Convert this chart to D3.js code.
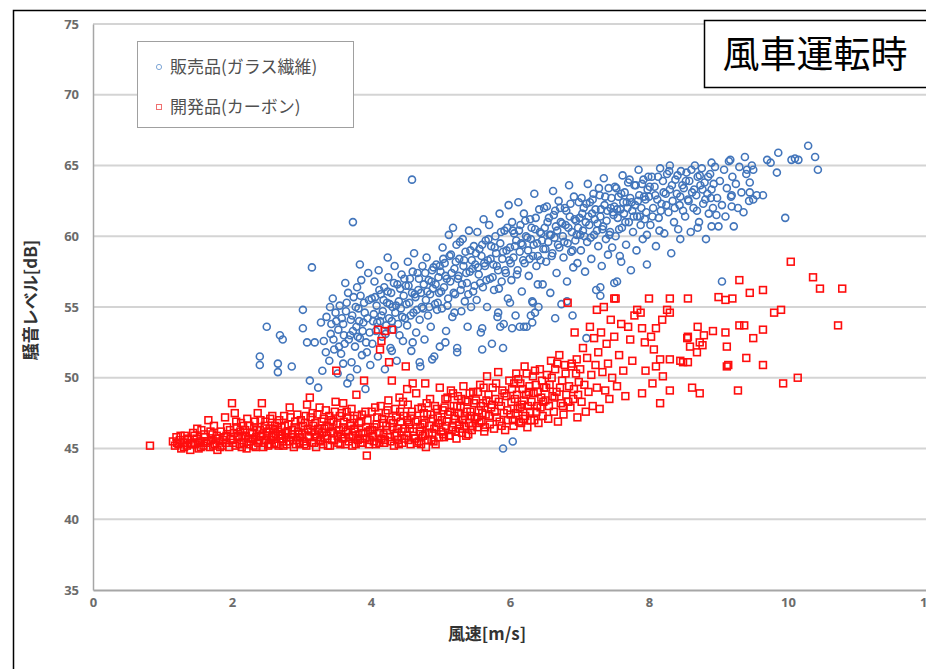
<!DOCTYPE html>
<html>
<head>
<meta charset="utf-8">
<script src="https://cdn.jsdelivr.net/npm/d3@7"></script>
<style>
	body { margin: 0; background: #fff; }
	svg { display: block; }
	text { font-family: "Noto Sans CJK JP", "Noto Sans", sans-serif; }
</style>
</head>
<body>
<div id="wrapper"></div>
<script>
// tick values / labels
const xTicks = [0, 2, 4, 6, 8, 10, 12];
const yTicks = [35, 40, 45, 50, 55, 60, 65, 70, 75];
const seriesNames = ["販売品(ガラス繊維)", "開発品(カーボン)"];
const chartTitle = "風車運転時";

// 販売品(ガラス繊維): [wind speed m/s, noise dB]
const glassFiber = [
	[2.4,51.5],[2.4,50.9],[2.5,53.6],[2.69,53.0],[2.73,52.7],[2.66,51.0],[2.66,50.4],[2.86,50.8],[3.02,53.5],[3.02,54.8],
	[3.08,52.5],[3.19,52.5],[3.12,49.8],[3.24,49.3],[3.41,55.0],[3.63,56.7],[3.8,56.4],[3.84,58.0],[4.24,58.5],[3.15,57.8],
	[3.74,61.0],[4.59,64.0],[3.3,50.5],[3.35,51.8],[3.28,53.9],
	[3.32,52.6],[3.36,54.3],[3.4,51.2],[3.42,53.1],[3.45,55.6],[3.47,52.0],[3.5,54.0],[3.52,50.3],[3.53,53.4],[3.55,55.1],
	[3.57,51.7],[3.6,53.8],[3.62,52.4],[3.64,54.7],[3.66,49.6],[3.67,56.0],[3.7,53.0],[3.72,51.1],[3.73,54.4],[3.75,55.7],
	[3.77,52.2],[3.79,53.6],[3.8,50.6],[3.82,54.9],[3.84,52.8],[3.86,56.9],[3.87,51.6],[3.89,53.9],[3.9,55.3],[3.92,49.2],
	[3.93,52.5],[3.95,54.2],[3.96,57.4],[3.98,53.2],[3.99,50.9],
	[3.43,53.8],[3.46,52.7],[3.49,54.6],[3.54,52.2],[3.58,54.2],[3.61,53.0],[3.65,55.3],[3.68,52.7],[3.71,54.1],[3.74,53.3],
	[3.78,55.0],[3.81,52.9],[3.83,54.0],[3.85,55.8],[3.88,53.3],[3.91,54.6],[3.94,51.8],[3.97,55.5],[3.6,51.0],[3.7,50.0],
	[4.01,55.6],[4.02,52.4],[4.04,54.5],[4.05,56.8],[4.07,53.3],[4.08,55.1],[4.1,51.5],[4.11,57.6],[4.13,54.0],[4.14,55.9],
	[4.16,52.9],[4.17,54.7],[4.19,56.4],[4.2,50.6],[4.22,53.7],[4.23,55.3],[4.25,57.1],[4.26,54.2],[4.28,52.1],[4.29,56.0],
	[4.31,55.0],[4.32,53.4],[4.34,57.9],[4.35,54.6],[4.37,51.2],[4.38,56.6],[4.4,55.4],[4.41,53.0],[4.43,54.9],[4.44,57.3],
	[4.46,52.6],[4.47,55.8],[4.49,54.2],
	[4.5,56.5],[4.52,53.7],[4.53,58.2],[4.55,55.3],[4.56,57.0],[4.58,51.9],[4.59,56.0],[4.61,54.6],[4.62,58.8],[4.64,55.7],
	[4.65,53.2],[4.67,57.4],[4.68,56.2],[4.7,54.1],[4.71,50.8],[4.73,55.0],[4.74,57.9],[4.76,56.6],[4.77,52.7],[4.79,55.5],
	[4.8,58.5],[4.82,54.4],[4.83,56.9],[4.85,55.9],[4.86,53.6],[4.88,57.6],[4.89,56.3],[4.91,51.5],[4.92,55.2],[4.94,58.0],
	[4.95,54.8],[4.97,57.1],[4.98,56.0],
	[4.03,54.0],[4.06,55.7],[4.09,53.9],[4.12,56.2],[4.15,54.4],[4.18,55.5],[4.21,53.1],[4.24,56.1],[4.27,55.2],[4.3,54.0],
	[4.33,56.7],[4.36,55.1],[4.39,53.8],[4.42,56.3],[4.45,54.3],[4.48,57.0],[4.51,55.2],[4.54,56.5],[4.57,54.4],[4.6,57.5],
	[4.63,55.9],[4.66,54.8],[4.69,57.0],[4.72,56.0],[4.75,54.9],[4.78,57.4],[4.81,56.1],[4.84,55.0],[4.87,56.8],[4.9,57.8],
	[4.93,56.6],[4.96,55.3],[4.99,57.9],[4.3,51.9],[4.6,52.5],
	[5.0,57.5],[5.02,54.9],[5.03,59.2],[5.05,56.4],[5.06,58.1],[5.08,53.3],[5.09,57.0],[5.11,55.6],[5.12,60.1],[5.14,56.8],
	[5.15,58.7],[5.17,54.3],[5.18,60.6],[5.2,57.7],[5.21,55.9],[5.23,59.4],[5.24,52.1],[5.26,57.2],[5.27,58.4],[5.29,56.2],
	[5.3,54.7],[5.32,59.8],[5.33,57.9],[5.35,55.4],[5.36,58.9],[5.38,56.7],[5.39,53.6],[5.41,60.4],[5.42,57.5],[5.44,55.0],
	[5.45,58.3],[5.47,56.1],[5.48,59.3],
	[5.5,58.0],[5.52,55.5],[5.53,60.3],[5.55,57.3],[5.56,59.1],[5.58,53.2],[5.59,58.6],[5.61,56.4],[5.62,61.2],[5.64,57.9],
	[5.65,59.7],[5.67,55.0],[5.68,58.3],[5.7,60.8],[5.71,57.0],[5.73,59.3],[5.74,52.4],[5.76,58.0],[5.77,56.2],[5.79,60.0],
	[5.8,58.8],[5.82,54.3],[5.83,57.6],[5.85,61.6],[5.86,59.5],[5.88,56.8],[5.89,58.4],[5.91,53.8],[5.92,60.4],[5.94,57.4],
	[5.95,59.0],[5.97,55.6],[5.98,62.2],
	[5.01,56.1],[5.04,58.4],[5.07,57.2],[5.1,55.1],[5.13,58.6],[5.16,57.4],[5.19,56.0],[5.22,58.2],[5.25,57.0],[5.28,59.6],
	[5.31,56.6],[5.34,58.3],[5.37,57.4],[5.4,55.9],[5.43,59.0],[5.46,57.7],[5.49,56.5],[5.51,58.8],[5.54,57.8],[5.57,56.7],
	[5.6,59.4],[5.63,58.1],[5.66,56.9],[5.69,59.8],[5.72,58.4],[5.75,57.1],[5.78,59.2],[5.81,57.9],[5.84,56.3],[5.87,60.3],
	[5.9,58.9],[5.93,57.6],[5.96,60.6],[5.99,58.3],[5.2,54.6],
	[6.0,59.2],[6.02,56.9],[6.03,61.0],[6.05,58.5],[6.06,60.2],[6.08,54.4],[6.09,59.7],[6.11,57.6],[6.12,62.4],[6.14,58.9],
	[6.15,60.8],[6.17,56.1],[6.18,59.4],[6.2,61.6],[6.21,58.1],[6.23,60.0],[6.24,53.6],[6.26,59.0],[6.27,57.2],[6.29,61.2],
	[6.3,59.8],[6.32,55.4],[6.33,58.6],[6.35,63.0],[6.36,60.5],[6.38,57.9],[6.39,59.5],[6.41,55.0],[6.42,61.9],[6.44,58.3],
	[6.45,60.2],[6.47,56.6],[6.48,59.1],
	[6.5,60.6],[6.52,58.2],[6.53,62.1],[6.55,59.6],[6.56,61.3],[6.58,56.0],[6.59,60.1],[6.61,58.8],[6.62,63.2],[6.64,59.9],
	[6.65,61.8],[6.67,57.4],[6.68,60.4],[6.7,62.5],[6.71,59.2],[6.73,61.0],[6.74,55.2],[6.76,60.0],[6.77,58.5],[6.79,62.0],
	[6.8,60.8],[6.82,56.8],[6.83,59.5],[6.85,63.6],[6.86,61.4],[6.88,58.9],[6.89,60.3],[6.91,57.8],[6.92,62.8],[6.94,59.7],
	[6.95,61.1],[6.97,58.1],[6.98,60.6],
	[6.01,58.1],[6.04,60.4],[6.07,59.3],[6.1,57.3],[6.13,60.4],[6.16,59.5],[6.19,58.3],[6.22,61.1],[6.25,59.9],[6.28,58.4],
	[6.31,60.6],[6.34,59.4],[6.37,61.3],[6.4,58.6],[6.43,60.3],[6.46,59.7],[6.49,62.0],[6.51,59.1],[6.54,61.0],[6.57,60.1],
	[6.6,58.6],[6.63,61.5],[6.66,60.7],[6.69,59.4],[6.72,62.0],[6.75,60.9],[6.78,59.6],[6.81,61.8],[6.84,60.6],[6.87,62.3],
	[6.9,59.0],[6.93,61.2],[6.96,60.1],[6.99,62.4],[6.4,56.6],
	[7.0,61.3],[7.02,59.0],[7.03,62.7],[7.05,60.4],[7.06,62.0],[7.08,57.5],[7.09,61.0],[7.11,59.6],[7.12,63.7],[7.14,60.8],
	[7.15,62.4],[7.17,58.4],[7.18,61.6],[7.2,63.0],[7.21,60.1],[7.23,61.9],[7.24,56.2],[7.26,60.9],[7.27,59.3],[7.29,62.9],
	[7.3,61.4],[7.32,57.9],[7.33,60.5],[7.35,64.1],[7.36,62.2],[7.38,59.8],[7.39,61.1],[7.41,58.7],[7.42,63.4],[7.44,60.3],
	[7.45,62.0],[7.47,59.2],[7.48,61.7],
	[7.5,62.1],[7.52,60.0],[7.53,63.4],[7.55,61.3],[7.56,62.8],[7.58,58.6],[7.59,61.9],[7.61,60.6],[7.62,64.3],[7.64,61.6],
	[7.65,63.1],[7.67,59.4],[7.68,62.4],[7.7,63.8],[7.71,61.0],[7.73,62.7],[7.74,57.6],[7.76,61.8],[7.77,60.3],[7.79,63.6],
	[7.8,62.2],[7.82,59.0],[7.83,61.4],[7.85,64.7],[7.86,62.9],[7.88,60.8],[7.89,62.0],[7.91,59.8],[7.92,64.0],[7.94,61.2],
	[7.95,62.6],[7.97,60.1],[7.98,63.3],
	[7.01,60.1],[7.04,61.6],[7.07,60.0],[7.1,62.3],[7.13,61.4],[7.16,59.9],[7.19,62.6],[7.22,61.2],[7.25,60.4],[7.28,63.4],
	[7.31,61.9],[7.34,60.7],[7.37,62.8],[7.4,61.8],[7.43,60.1],[7.46,62.7],[7.49,61.5],[7.51,63.5],[7.54,61.9],[7.57,60.5],
	[7.6,63.0],[7.63,62.4],[7.66,61.0],[7.69,62.0],[7.72,64.0],[7.75,62.4],[7.78,61.4],[7.81,63.6],[7.84,62.5],[7.87,61.4],
	[7.9,63.7],[7.93,62.8],[7.96,61.7],[7.99,64.2],[7.6,58.2],
	[8.0,62.8],[8.02,60.8],[8.04,64.2],[8.06,62.0],[8.08,63.5],[8.1,59.3],[8.12,62.6],[8.14,61.3],[8.16,64.8],[8.18,62.3],
	[8.2,63.9],[8.22,60.2],[8.24,63.0],[8.26,64.4],[8.28,61.7],[8.3,63.3],[8.32,58.8],[8.34,62.5],[8.36,61.0],[8.38,64.0],
	[8.4,63.0],[8.42,60.5],[8.44,62.2],[8.46,64.6],[8.48,63.6],
	[8.5,63.4],[8.52,61.4],[8.54,64.5],[8.56,62.6],[8.58,63.9],[8.6,60.3],[8.62,63.1],[8.64,62.0],[8.66,65.0],[8.68,62.9],
	[8.7,64.2],[8.72,61.0],[8.74,63.6],[8.76,64.8],[8.78,62.3],[8.8,63.8],[8.82,59.8],[8.84,63.0],[8.86,61.6],[8.88,64.4],
	[8.9,63.3],[8.92,62.0],[8.95,64.9],[8.98,62.7],
	[8.01,63.5],[8.05,61.4],[8.09,62.9],[8.13,64.2],[8.17,61.8],[8.21,63.1],[8.25,62.2],[8.29,64.6],[8.33,63.6],[8.37,62.0],
	[8.41,64.3],[8.45,62.8],[8.49,61.8],[8.53,63.9],[8.57,62.5],[8.61,64.7],[8.65,63.3],[8.69,61.8],[8.73,64.3],[8.77,63.3],
	[8.81,62.6],[8.85,64.2],[8.89,62.7],[8.93,63.7],[8.97,61.5],[8.15,60.4],[8.45,59.8],[8.7,60.6],[8.3,65.0],[8.9,65.2],
	[9.02,63.9],[9.05,62.2],[9.08,64.7],[9.1,61.4],[9.12,63.4],[9.15,65.3],[9.18,62.8],[9.2,64.2],[9.22,60.7],[9.25,63.7],
	[9.28,62.0],[9.3,64.9],[9.33,63.1],[9.36,61.7],[9.4,64.4],[9.44,62.5],[9.48,65.0],
	[9.17,65.4],[9.38,65.6],[9.41,64.7],[9.5,64.7],[9.45,63.8],[9.45,63.1],[9.55,62.9],[9.64,62.9],[9.5,62.6],[9.7,65.4],
	[9.75,65.2],[9.86,65.9],[9.84,64.5],[10.1,65.5],[10.05,65.4],[10.15,65.4],[10.29,66.4],[10.39,65.6],[10.43,64.7],[9.96,61.3],
	[9.19,62.9],[9.19,62.1],[9.0,60.7],[8.9,60.7],
	[7.1,52.8],[7.5,56.7],[7.3,56.4],[7.3,55.8],[7.97,58.0],[6.82,55.4],[6.9,54.4],[6.65,54.2],[6.3,54.4],[6.32,53.9],
	[6.0,55.3],[5.83,54.6],[5.6,53.5],[5.6,52.0],[5.9,52.1],[6.14,53.6],[6.03,53.5],[5.24,51.8],[5.9,45.0],[6.04,45.5],
	[4.88,51.3],[4.7,51.1],[4.99,52.2],[5.07,52.5],[9.05,56.8],[6.33,55.3],[6.36,54.6],[5.86,53.6],[6.2,53.6],[7.54,56.8]
];

// 開発品(カーボン)
const carbon = [
	[0.82,45.2],
	[1.15,45.5],[1.18,45.2],[1.2,45.8],[1.23,45.3],[1.25,45.6],[1.27,45.0],[1.3,45.4],[1.32,45.9],[1.35,45.2],[1.37,45.6],
	[1.4,44.9],[1.42,45.4],[1.44,46.1],[1.47,45.3],[1.49,45.7],[1.52,45.0],[1.54,45.5],[1.56,46.3],[1.59,45.2],[1.61,45.8],
	[1.63,45.4],[1.66,47.0],[1.68,45.1],[1.7,45.6],[1.72,46.0],[1.75,45.3],[1.77,45.7],[1.79,44.9],[1.82,45.5],[1.84,46.2],
	[1.86,45.2],[1.89,45.8],[1.91,45.4],[1.93,46.5],[1.96,45.1],[1.98,45.7],
	[1.21,45.4],[1.26,45.9],[1.31,45.1],[1.36,45.7],[1.41,45.3],[1.46,45.9],[1.51,45.4],[1.55,45.1],[1.6,46.0],[1.65,45.5],
	[1.69,46.2],[1.73,45.2],[1.78,45.9],[1.83,45.1],[1.87,45.6],[1.92,45.9],[1.97,46.3],[1.5,46.4],[1.74,46.6],[1.9,47.2],
	[2.0,48.2],[2.01,45.6],[2.03,46.1],[2.04,47.5],[2.05,45.2],[2.07,46.5],[2.09,45.8],[2.11,45.3],[2.13,46.8],[2.15,45.9],
	[2.17,45.4],[2.19,46.3],[2.21,45.0],[2.23,45.7],[2.25,46.6],[2.27,45.5],[2.29,46.1],[2.31,45.2],[2.33,46.9],[2.35,45.8],
	[2.37,47.5],[2.38,45.4],[2.4,46.3],[2.42,45.9],[2.43,48.2],[2.45,45.1],[2.47,46.6],[2.49,45.6],[2.51,46.2],[2.53,45.3],
	[2.55,47.1],[2.57,45.8],[2.59,46.4],[2.61,45.4],[2.63,46.0],[2.65,46.8],[2.67,45.2],[2.69,45.9],[2.71,46.5],[2.73,45.5],
	[2.75,47.3],[2.77,46.1],[2.79,45.3],[2.81,46.7],[2.83,47.9],[2.85,45.8],[2.87,46.3],[2.89,45.1],[2.91,46.9],[2.93,45.6],
	[2.95,46.2],[2.97,45.4],[2.99,47.0],
	[2.02,45.4],[2.06,46.9],[2.08,45.9],[2.12,46.2],[2.14,45.1],[2.16,46.6],[2.2,45.9],[2.22,47.1],[2.24,45.3],[2.26,46.1],
	[2.3,45.7],[2.32,46.5],[2.34,45.1],[2.36,46.3],[2.39,45.6],[2.41,47.0],[2.44,46.0],[2.46,45.4],[2.48,46.9],[2.5,45.9],
	[2.52,45.2],[2.54,46.4],[2.56,45.6],[2.58,47.3],[2.6,45.9],[2.62,46.6],[2.64,45.3],[2.66,46.2],[2.68,47.0],[2.7,45.7],
	[2.72,46.0],[2.74,45.2],[2.76,46.6],[2.78,45.8],[2.8,46.2],[2.82,45.5],[2.84,47.2],[2.86,46.0],[2.88,45.6],[2.9,46.5],
	[2.92,45.3],[2.94,47.4],[2.96,46.0],[2.98,45.8],
	[3.01,46.0],[3.03,45.5],[3.05,46.8],[3.07,45.2],[3.08,48.1],[3.09,46.4],[3.11,45.8],[3.12,48.6],[3.13,47.2],[3.15,45.4],
	[3.17,46.6],[3.19,46.0],[3.21,45.1],[3.23,47.4],[3.25,46.2],[3.27,45.6],[3.29,46.9],[3.31,45.3],[3.33,46.4],[3.35,47.7],
	[3.37,45.9],[3.39,46.5],[3.41,45.2],[3.43,47.0],[3.45,46.1],[3.47,45.6],[3.49,48.3],[3.5,50.5],[3.51,46.7],[3.53,45.4],
	[3.55,47.3],[3.57,46.0],[3.59,45.7],[3.61,46.9],[3.63,45.3],[3.65,47.6],[3.67,46.3],[3.69,45.8],[3.71,46.6],[3.73,45.2],
	[3.75,47.1],[3.77,46.2],[3.79,48.8],[3.81,45.6],[3.83,46.8],[3.85,45.4],[3.87,47.4],[3.89,46.1],[3.9,49.8],[3.91,45.7],
	[3.93,46.5],[3.94,44.5],[3.95,47.0],[3.97,45.3],[3.99,46.3],
	[3.02,46.6],[3.04,45.3],[3.06,47.3],[3.1,45.9],[3.14,46.2],[3.16,47.5],[3.18,45.4],[3.2,46.8],[3.22,45.8],[3.24,46.4],
	[3.26,47.9],[3.28,45.5],[3.3,46.1],[3.32,47.1],[3.34,45.7],[3.36,46.6],[3.38,45.2],[3.4,47.3],[3.42,46.2],[3.44,45.6],
	[3.46,46.9],[3.48,47.6],[3.52,45.9],[3.54,46.3],[3.56,45.3],[3.58,47.5],[3.6,46.5],[3.62,45.8],[3.64,46.2],[3.66,47.2],
	[3.68,45.5],[3.7,46.8],[3.72,47.8],[3.74,45.9],[3.76,46.4],[3.78,45.3],[3.8,47.3],[3.82,46.0],[3.84,45.7],[3.86,46.9],
	[3.88,45.4],[3.92,47.6],[3.96,46.2],[3.98,45.6],[3.6,48.2],
	[4.01,47.6],[4.03,45.9],[4.05,46.5],[4.07,45.3],[4.09,47.2],[4.1,53.4],[4.11,46.1],[4.13,52.0],[4.14,48.0],[4.15,45.7],
	[4.17,46.8],[4.19,45.4],[4.21,47.5],[4.23,46.3],[4.25,48.4],[4.26,51.1],[4.27,45.8],[4.29,47.0],[4.3,49.8],[4.31,46.5],
	[4.33,45.2],[4.35,47.8],[4.37,46.1],[4.39,45.6],[4.41,48.6],[4.43,46.9],[4.45,45.4],[4.47,47.3],[4.49,46.4],[4.5,50.8],
	[4.51,45.9],[4.53,48.1],[4.55,46.7],[4.57,45.3],[4.59,47.6],[4.6,49.6],[4.61,46.2],[4.63,45.7],[4.65,48.9],[4.67,47.0],
	[4.69,45.5],[4.71,46.5],[4.73,47.9],[4.75,45.9],[4.77,46.8],[4.79,45.1],[4.81,47.4],[4.83,46.1],[4.85,48.5],[4.87,45.6],
	[4.89,47.1],[4.91,46.4],[4.93,45.3],[4.95,47.8],[4.97,46.8],[4.99,49.3],[4.2,53.3],[4.3,53.4],[4.15,52.6],
	[4.02,46.3],[4.04,45.5],[4.06,47.9],[4.08,46.7],[4.12,45.4],[4.16,47.1],[4.18,46.0],[4.2,45.6],[4.22,46.6],[4.24,47.7],
	[4.28,45.5],[4.32,46.8],[4.34,45.9],[4.36,47.2],[4.38,46.4],[4.4,45.3],[4.42,47.6],[4.44,46.2],[4.46,48.3],[4.48,45.7],
	[4.52,47.0],[4.54,45.6],[4.56,46.4],[4.58,47.3],[4.62,45.9],[4.64,46.9],[4.66,45.4],[4.68,47.8],[4.7,46.2],[4.72,45.3],
	[4.74,46.7],[4.76,47.5],[4.78,46.0],[4.8,48.2],[4.82,45.6],[4.84,46.6],[4.86,47.4],[4.88,46.1],[4.9,45.5],[4.92,48.0],
	[4.94,46.5],[4.96,47.2],[4.98,45.8],[4.52,49.2],[4.78,49.6],
	[5.01,46.2],[5.03,47.7],[5.05,45.8],[5.07,48.5],[5.09,46.9],[5.11,47.4],[5.13,45.9],[5.15,49.1],[5.17,46.5],[5.19,48.0],
	[5.21,47.1],[5.23,45.7],[5.25,48.7],[5.27,46.7],[5.29,47.9],[5.31,46.1],[5.33,49.4],[5.35,47.3],[5.37,45.9],[5.39,48.3],
	[5.41,46.8],[5.43,47.6],[5.45,46.3],[5.47,49.0],[5.49,47.1],
	[5.51,48.4],[5.53,46.5],[5.55,47.7],[5.57,49.5],[5.59,46.9],[5.61,48.2],[5.63,46.2],[5.65,47.4],[5.67,50.1],[5.69,48.8],
	[5.71,46.7],[5.73,47.9],[5.75,49.3],[5.77,46.4],[5.79,48.5],[5.81,47.2],[5.83,50.4],[5.85,46.9],[5.87,48.0],[5.89,49.1],
	[5.91,47.5],[5.93,46.3],[5.95,48.7],[5.97,47.0],[5.99,49.8],
	[5.02,47.0],[5.04,46.0],[5.06,47.9],[5.08,46.6],[5.1,48.6],[5.12,45.9],[5.14,47.6],[5.16,46.3],[5.18,48.9],[5.2,47.3],
	[5.22,46.2],[5.24,48.0],[5.26,47.5],[5.28,46.4],[5.3,48.5],[5.32,47.0],[5.34,46.6],[5.36,48.4],[5.38,47.6],[5.4,46.0],
	[5.42,48.9],[5.44,47.3],[5.46,46.6],[5.48,48.2],[5.52,47.2],[5.54,49.0],[5.56,46.8],[5.58,48.0],[5.6,47.5],[5.62,49.3],
	[5.64,46.5],[5.66,48.4],[5.7,47.3],[5.74,48.1],[5.78,47.6],[5.8,49.6],[5.84,48.3],[5.88,46.6],[5.92,48.9],[5.96,47.7],
	[6.01,47.4],[6.03,49.2],[6.05,46.6],[6.07,48.5],[6.09,50.3],[6.11,47.8],[6.13,46.9],[6.15,49.6],[6.17,48.1],[6.19,47.1],
	[6.21,50.8],[6.23,48.8],[6.25,46.5],[6.27,49.0],[6.29,47.6],[6.31,48.3],[6.33,50.1],[6.35,47.0],[6.37,49.5],[6.39,48.0],
	[6.41,46.8],[6.43,50.6],[6.45,48.6],[6.47,47.3],[6.49,49.3],
	[6.51,48.4],[6.53,50.2],[6.55,47.1],[6.57,49.5],[6.59,51.2],[6.61,48.7],[6.63,47.6],[6.65,50.6],[6.67,49.0],[6.69,46.9],
	[6.71,51.6],[6.73,48.2],[6.75,49.8],[6.77,47.4],[6.79,50.9],[6.81,48.8],[6.83,55.3],[6.85,49.4],[6.87,47.9],[6.89,51.0],
	[6.91,48.5],[6.93,53.2],[6.95,50.3],[6.97,47.2],[6.99,49.7],
	[6.02,48.3],[6.04,47.0],[6.06,49.6],[6.08,47.5],[6.1,48.8],[6.12,49.9],[6.14,47.9],[6.16,46.8],[6.18,49.2],[6.2,48.4],
	[6.22,47.3],[6.24,50.3],[6.26,48.0],[6.28,49.4],[6.3,47.0],[6.34,48.9],[6.36,50.5],[6.38,47.6],[6.4,49.0],[6.44,47.9],
	[6.46,49.8],[6.48,48.3],[6.52,49.3],[6.56,48.0],[6.6,50.0],[6.64,48.6],[6.68,51.0],[6.72,49.3],[6.76,48.0],[6.8,50.3],
	[6.84,48.3],[6.88,50.8],[6.92,49.2],[6.96,51.3],[6.98,48.8],
	[7.01,50.6],[7.03,48.3],[7.05,52.1],[7.07,49.5],[7.09,47.6],[7.11,51.4],[7.13,49.0],[7.15,53.6],[7.17,50.2],[7.19,48.0],
	[7.21,52.8],[7.23,50.9],[7.25,49.3],[7.27,51.8],[7.29,47.8],[7.31,53.2],[7.33,50.4],[7.35,55.0],[7.37,49.1],[7.39,52.4],
	[7.41,51.0],[7.43,48.5],[7.45,54.1],[7.47,50.0],[7.5,52.9],[7.52,55.6],[7.54,49.4],[7.57,51.6],[7.6,53.8],[7.63,50.5],
	[7.66,48.7],[7.7,53.6],[7.73,52.7],[7.76,51.2],[7.79,54.4],
	[7.5,55.6],[8.0,55.6],[8.3,55.6],[8.56,55.6],[8.3,54.6],[8.19,54.1],[7.88,54.6],[8.7,53.6],[8.79,53.0],[8.92,53.3],
	[8.56,52.9],[8.59,52.2],[8.77,52.3],[8.56,51.1],[8.45,51.2],[8.62,49.3],[8.73,48.9],[8.07,52.0],[8.16,51.3],[8.3,51.3],
	[8.2,50.1],[8.3,49.1],[8.16,48.2],[8.03,52.9],[7.94,52.5],[7.95,50.5],[8.05,49.6],[7.9,48.9],[8.1,50.8],
	[7.25,54.8],[7.83,54.8],[8.26,54.8],[7.9,53.5],[8.1,53.5],[8.55,52.8],[8.73,52.5],[8.69,51.8],[8.49,51.1],[9.12,50.8],
	[10.04,58.2],[10.36,57.1],[10.46,56.3],[10.78,56.3],[10.72,53.7],[9.3,56.9],[9.64,56.2],[9.45,56.0],[9.0,55.7],[9.1,55.5],
	[9.2,55.6],[9.8,54.6],[9.9,54.8],[9.3,53.7],[9.37,53.7],[9.64,53.4],[9.5,52.8],[9.1,53.2],[9.12,52.2],[9.14,50.9],
	[9.4,51.4],[9.64,50.9],[9.93,49.6],[10.14,50.0],[9.28,49.1]
];

function drawChart() {
	const width = 926;
	const height = 669;

	const svg = d3.select("#wrapper")
		.append("svg")
		.attr("width", width)
		.attr("height", height);

	// soft blur so the markers read like the scanned original
	svg.append("defs").append("filter")
		.attr("id", "soft")
		.append("feGaussianBlur")
		.attr("stdDeviation", 0.45);

	// outer frame (right and bottom edges are cut off in the picture)
	svg.append("rect")
		.attr("x", 13.5).attr("y", 10.5)
		.attr("width", 1000).attr("height", 1000)
		.attr("fill", "none")
		.attr("stroke", "#000")
		.attr("stroke-width", 1.5);

	const xScale = d3.scaleLinear().domain([0, 12]).range([93, 927]);
	const yScale = d3.scaleLinear().domain([35, 75]).range([590, 24]);

	// horizontal gridlines
	svg.append("g")
		.selectAll("line")
		.data(yTicks.slice(1))
		.enter().append("line")
		.attr("x1", xScale(0)).attr("x2", xScale(12))
		.attr("y1", d => yScale(d)).attr("y2", d => yScale(d))
		.attr("stroke", "#d4d4d4")
		.attr("stroke-width", 2);

	// y axis
	const yAxis = d3.axisLeft(yScale).tickValues(yTicks).tickSize(0).tickPadding(14);
	const gy = svg.append("g").attr("transform", `translate(${xScale(0)},0)`).call(yAxis);
	gy.select(".domain").attr("stroke", "#a6a6a6").attr("stroke-width", 1.5);
	gy.selectAll("text")
		.attr("fill", "#6b6b6b")
		.attr("font-size", 13)
		.attr("font-weight", "bold")
		.style("font-family", "'Open Sans', sans-serif");

	// x axis
	const xAxis = d3.axisBottom(xScale).tickValues(xTicks).tickSize(0).tickPadding(8);
	const gx = svg.append("g").attr("transform", `translate(0,${yScale(35)})`).call(xAxis);
	gx.select(".domain").attr("stroke", "#a6a6a6").attr("stroke-width", 2);
	gx.selectAll("text")
		.attr("fill", "#6b6b6b")
		.attr("font-size", 13)
		.attr("font-weight", "bold")
		.style("font-family", "'Open Sans', sans-serif");

	// axis titles
	svg.append("text")
		.attr("x", 487).attr("y", 640)
		.attr("text-anchor", "middle")
		.attr("font-size", 17)
		.attr("font-weight", "bold")
		.attr("fill", "#333")
		.text("風速[m/s]");

	svg.append("text")
		.attr("transform", "translate(37,300) rotate(-90)")
		.attr("text-anchor", "middle")
		.attr("font-size", 17)
		.attr("font-weight", "bold")
		.attr("fill", "#333")
		.text("騒音レベル[dB]");

	// points: glass fiber (blue circles), then carbon (red squares) on top
	const plot = svg.append("g").attr("filter", "url(#soft)");

	plot.selectAll(".gf")
		.data(glassFiber)
		.enter().append("circle")
		.attr("class", "gf")
		.attr("cx", d => xScale(d[0]))
		.attr("cy", d => yScale(d[1]))
		.attr("r", 3.5)
		.attr("fill", "none")
		.attr("stroke", "#4275bb")
		.attr("stroke-width", 1.6);

	const sq = 6.8;
	plot.selectAll(".cb")
		.data(carbon)
		.enter().append("rect")
		.attr("class", "cb")
		.attr("x", d => xScale(d[0]) - sq / 2)
		.attr("y", d => yScale(d[1]) - sq / 2)
		.attr("width", sq).attr("height", sq)
		.attr("fill", "none")
		.attr("stroke", "#ff1010")
		.attr("stroke-width", 1.6);

	// legend
	const legend = svg.append("g");
	legend.append("rect")
		.attr("x", 137.5).attr("y", 41.5)
		.attr("width", 216).attr("height", 86)
		.attr("fill", "#fff")
		.attr("stroke", "#a0a0a0");

	legend.append("circle")
		.attr("cx", 159).attr("cy", 67).attr("r", 2.6)
		.attr("fill", "none").attr("stroke", "#7fa7d6");
	legend.append("rect")
		.attr("x", 156.5).attr("y", 104.5).attr("width", 5).attr("height", 5)
		.attr("fill", "none").attr("stroke", "#f07070");

	legend.selectAll(".lt")
		.data(seriesNames)
		.enter().append("text")
		.attr("class", "lt")
		.attr("x", 170)
		.attr("y", (d, i) => 73 + i * 40)
		.attr("font-size", 17)
		.attr("fill", "#505050")
		.text(d => d);

	// title box
	svg.append("rect")
		.attr("x", 704.5).attr("y", 20.5)
		.attr("width", 300).attr("height", 67)
		.attr("fill", "#fff")
		.attr("stroke", "#000")
		.attr("stroke-width", 1.5);
	svg.append("text")
		.attr("x", 815).attr("y", 68)
		.attr("text-anchor", "middle")
		.attr("font-size", 37)
		.attr("fill", "#000")
		.text(chartTitle);
}
drawChart();
</script>
</body>
</html>
